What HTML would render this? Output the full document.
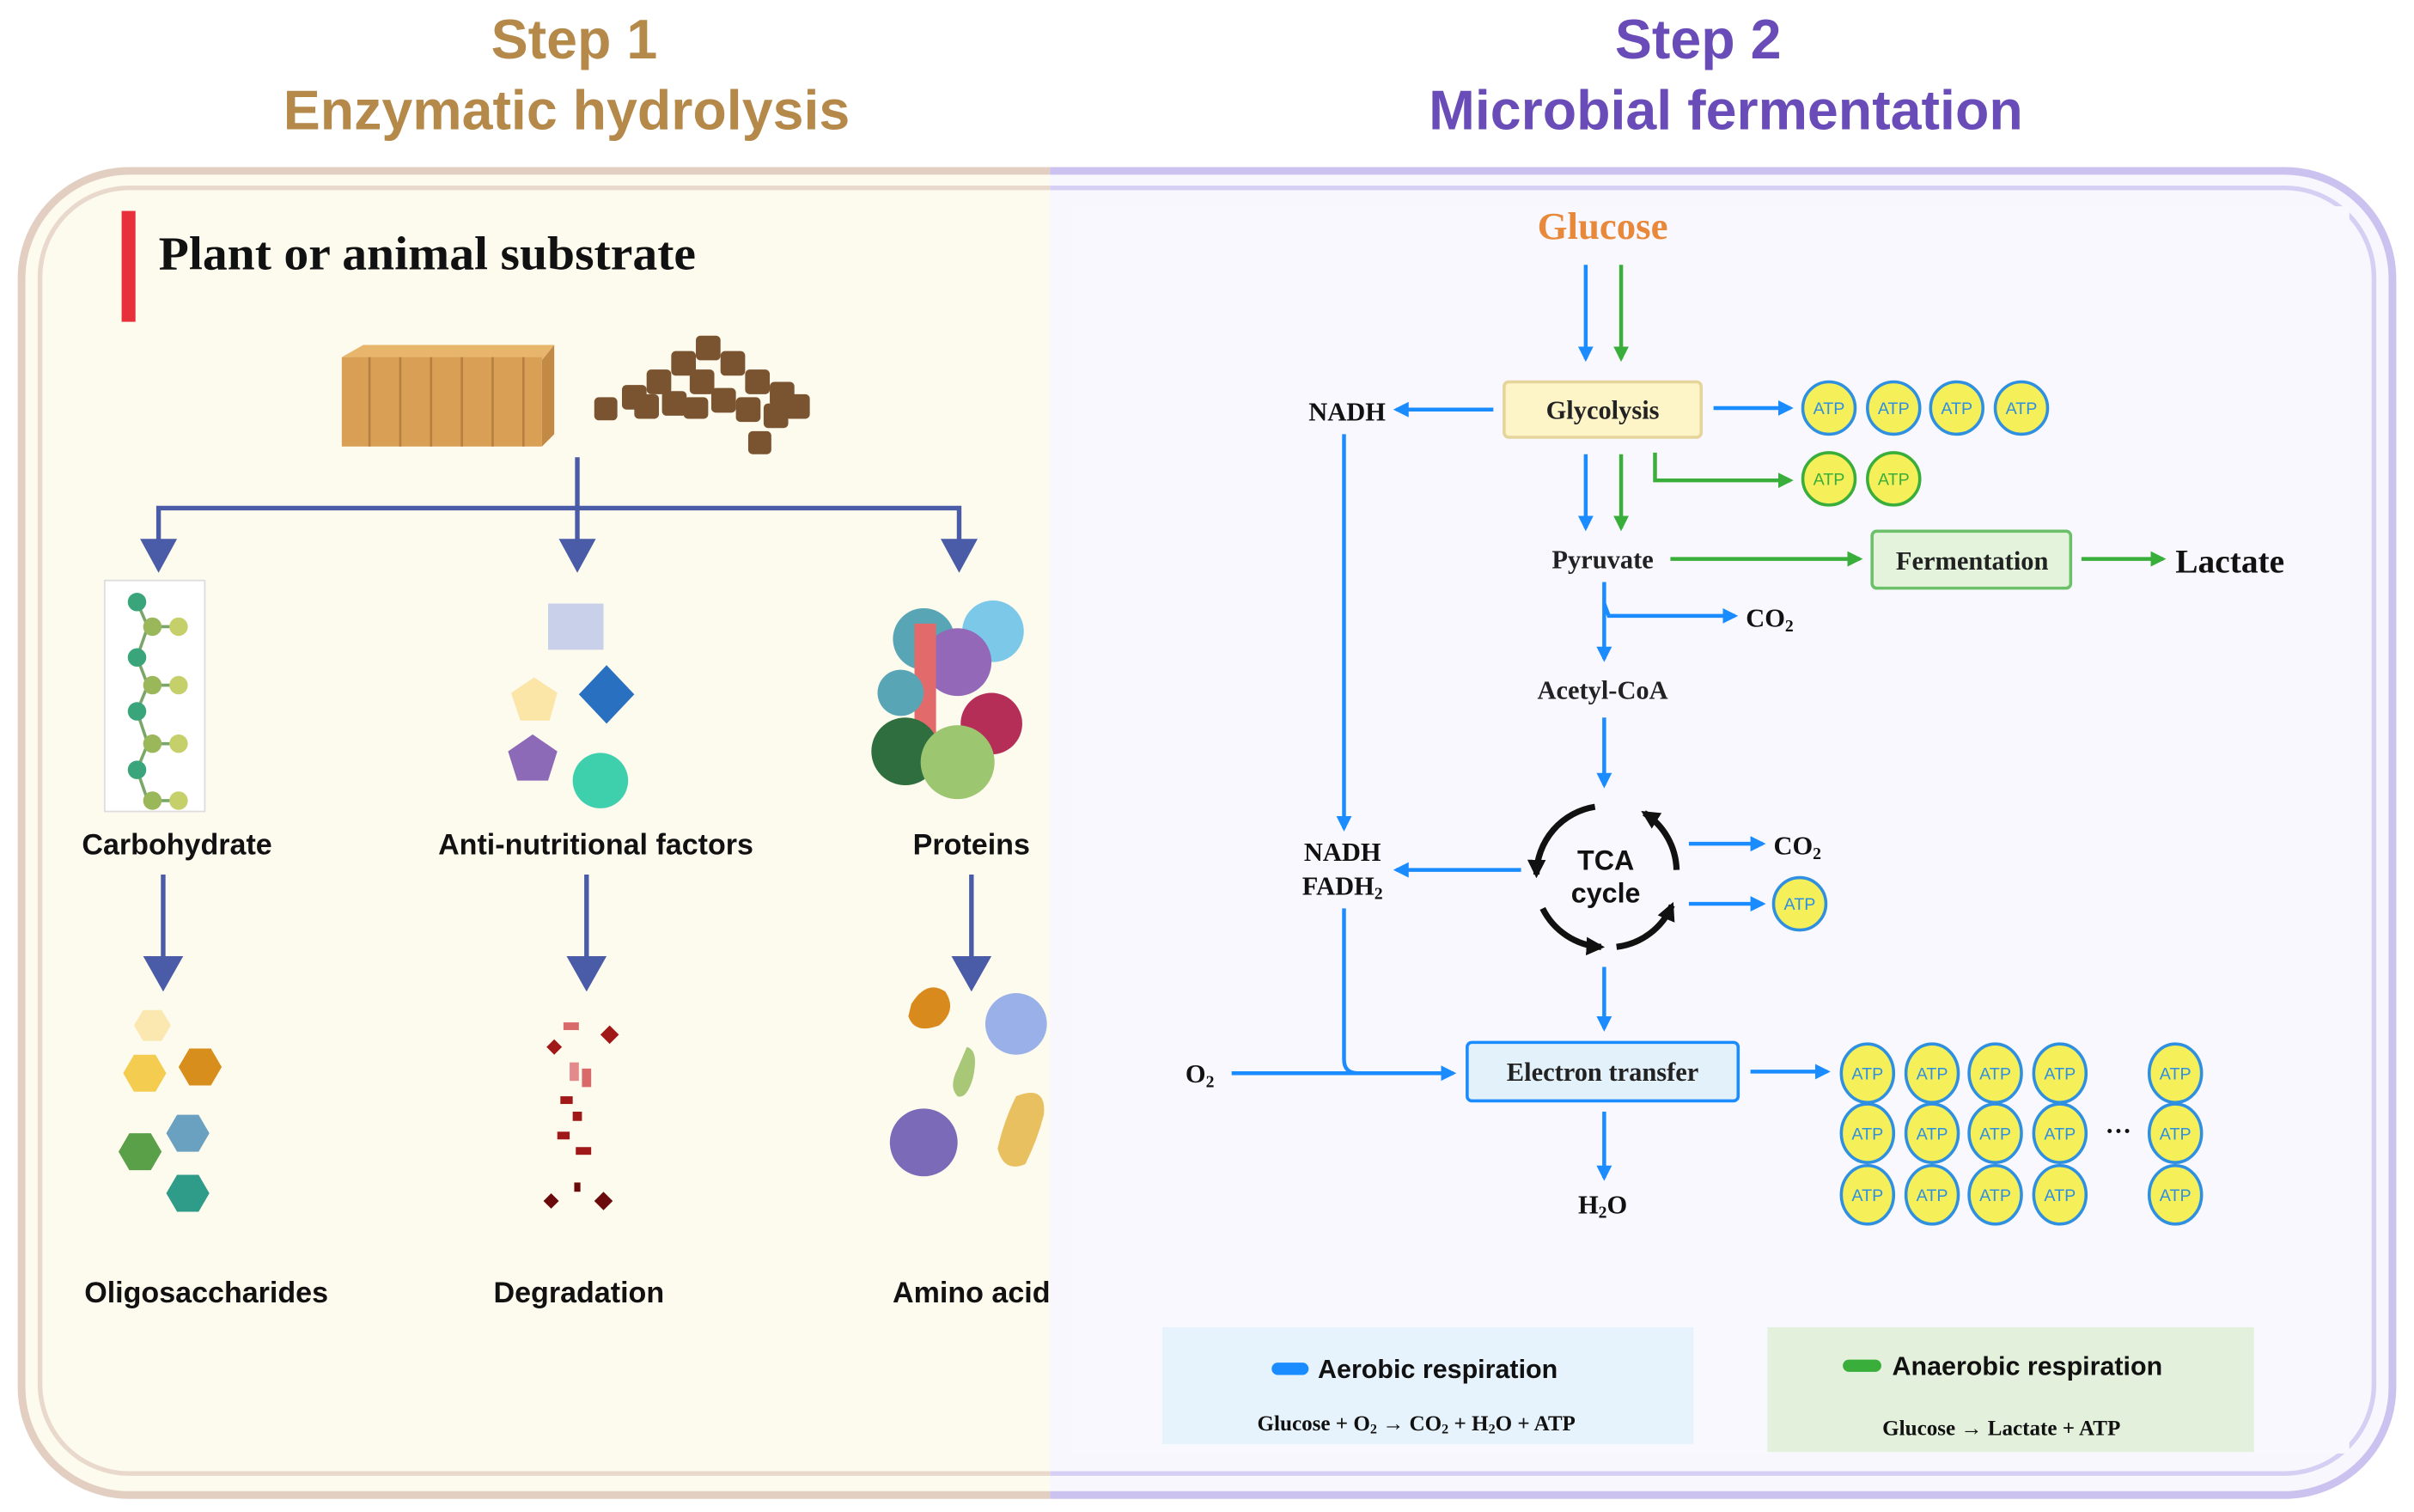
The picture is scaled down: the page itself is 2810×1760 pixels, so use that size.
<!DOCTYPE html>
<html><head><meta charset="utf-8"><style>
html,body{margin:0;padding:0;background:#fff;}
svg{display:block;}
.sans{font-family:"Liberation Sans",sans-serif;font-weight:bold;}
.serif{font-family:"Liberation Serif",serif;font-weight:bold;}
</style></head><body>
<svg width="2810" height="1760" viewBox="0 0 1568 982" preserveAspectRatio="none" xmlns="http://www.w3.org/2000/svg">
<defs>
<marker id="ab" viewBox="0 0 10 10" refX="8" refY="5" markerWidth="4" markerHeight="4" orient="auto"><path d="M0,0L10,5L0,10z" fill="#1a8cff"/></marker>
<marker id="ag" viewBox="0 0 10 10" refX="8" refY="5" markerWidth="4" markerHeight="4" orient="auto"><path d="M0,0L10,5L0,10z" fill="#3aae3a"/></marker>
<marker id="ak" viewBox="0 0 10 10" refX="8" refY="5" markerWidth="3" markerHeight="3" orient="auto"><path d="M0,0L10,5L0,10z" fill="#111"/></marker>
<marker id="ad" viewBox="0 0 10 10" refX="8" refY="5" markerWidth="3.5" markerHeight="3.5" orient="auto"><path d="M0,0L10,5L0,10z" fill="#4a5ba8"/></marker>
<g id="atpb"><ellipse cx="0" cy="0" rx="17" ry="17" fill="#f5ef5a" stroke="#2f8fe0" stroke-width="2"/><text x="0" y="4" font-size="11" text-anchor="middle" fill="#2f8fe0" font-family="Liberation Sans,sans-serif">ATP</text></g>
<g id="atpg"><ellipse cx="0" cy="0" rx="17" ry="17" fill="#f5ef5a" stroke="#3aae3a" stroke-width="2"/><text x="0" y="4" font-size="11" text-anchor="middle" fill="#3aae3a" font-family="Liberation Sans,sans-serif">ATP</text></g>
<g id="atpe"><ellipse cx="0" cy="0" rx="17" ry="19" fill="#f5ef5a" stroke="#2f8fe0" stroke-width="2"/><text x="0" y="4" font-size="11" text-anchor="middle" fill="#2f8fe0" font-family="Liberation Sans,sans-serif">ATP</text></g>
</defs>
<rect width="1568" height="982" fill="#fff"/>
<text x="373" y="38" class="sans" font-size="36" fill="#b5894a" text-anchor="middle">Step 1</text>
<text x="368" y="84" class="sans" font-size="36" fill="#b5894a" text-anchor="middle">Enzymatic hydrolysis</text>
<text x="1103" y="38" class="sans" font-size="36" fill="#6a4cb8" text-anchor="middle">Step 2</text>
<text x="1121" y="84" class="sans" font-size="36" fill="#6a4cb8" text-anchor="middle">Microbial fermentation</text>
<clipPath id="cl"><rect x="0" y="0" width="682" height="982"/></clipPath>
<clipPath id="cr"><rect x="682" y="0" width="900" height="982"/></clipPath>
<g clip-path="url(#cl)">
<rect x="14" y="111" width="1540" height="860" rx="70" fill="#fdfaee" stroke="#e3cfc2" stroke-width="5"/>
<rect x="26" y="122" width="1516" height="835" rx="58" fill="none" stroke="#e9d9cc" stroke-width="3"/>
</g>
<g clip-path="url(#cr)">
<rect x="14" y="111" width="1540" height="860" rx="70" fill="#f8f7fd" stroke="#cbc2f0" stroke-width="5"/>
<rect x="26" y="122" width="1516" height="835" rx="58" fill="none" stroke="#d6cff4" stroke-width="3"/>
</g>
<rect x="696" y="134" width="830" height="810" fill="#f9f8fe"/>
<rect x="79" y="137" width="9" height="72" fill="#e8303a"/>
<text x="103" y="175" class="serif" font-size="31" fill="#111" textLength="349" lengthAdjust="spacingAndGlyphs">Plant or animal substrate</text>
<path d="M222,232 L236,224 L360,224 L352,234 Z" fill="#e7b56c"/>
<rect x="222" y="232" width="130" height="58" fill="#d9a055"/>
<path d="M352,234 L360,224 L360,282 L352,290 Z" fill="#c28a45"/>
<g stroke="#b88040" stroke-width="1.5"><line x1="240" y1="232" x2="240" y2="290"/><line x1="260" y1="232" x2="260" y2="290"/><line x1="280" y1="232" x2="280" y2="290"/><line x1="300" y1="232" x2="300" y2="290"/><line x1="320" y1="232" x2="320" y2="290"/><line x1="340" y1="232" x2="340" y2="290"/></g>
<g fill="#7a5330">
<rect x="386" y="258" width="15" height="15" rx="3"/><rect x="404" y="250" width="16" height="16" rx="3"/><rect x="420" y="240" width="16" height="16" rx="3"/><rect x="436" y="228" width="16" height="16" rx="3"/><rect x="452" y="218" width="16" height="16" rx="3"/><rect x="468" y="228" width="16" height="16" rx="3"/><rect x="484" y="240" width="16" height="16" rx="3"/><rect x="500" y="248" width="16" height="16" rx="3"/><rect x="510" y="256" width="16" height="16" rx="3"/>
<rect x="412" y="256" width="16" height="16" rx="3"/><rect x="430" y="254" width="16" height="16" rx="3"/><rect x="448" y="240" width="16" height="16" rx="3"/><rect x="462" y="252" width="16" height="16" rx="3"/><rect x="478" y="258" width="16" height="16" rx="3"/><rect x="496" y="262" width="16" height="16" rx="3"/><rect x="486" y="280" width="15" height="15" rx="3"/><rect x="444" y="258" width="16" height="14" rx="3"/>
</g>
<g stroke="#4a5ba8" stroke-width="3" fill="none">
<line x1="375" y1="297" x2="375" y2="360" marker-end="url(#ad)"/>
<polyline points="103,362 103,330 623,330 623,362"/>
</g>
<g fill="#4a5ba8"><path d="M91,350 L115,350 L103,372Z"/><path d="M363,350 L387,350 L375,372Z"/><path d="M611,350 L635,350 L623,372Z"/></g>
<rect x="68" y="377" width="65" height="150" fill="#fff" stroke="#ddd"/>
<g stroke="#7aa66a" stroke-width="2"><polyline points="89,391 96,407 89,427 96,445 89,462 96,483 89,500 96,520" fill="none"/><line x1="96" y1="407" x2="116" y2="407"/><line x1="96" y1="445" x2="116" y2="445"/><line x1="96" y1="483" x2="116" y2="483"/><line x1="96" y1="520" x2="116" y2="520"/></g>
<g fill="#3aa57a"><circle cx="89" cy="391" r="6"/><circle cx="89" cy="427" r="6"/><circle cx="89" cy="462" r="6"/><circle cx="89" cy="500" r="6"/></g>
<g fill="#9ab85a"><circle cx="99" cy="407" r="6"/><circle cx="99" cy="445" r="6"/><circle cx="99" cy="483" r="6"/><circle cx="99" cy="520" r="6"/></g>
<g fill="#c6d06a"><circle cx="116" cy="407" r="6"/><circle cx="116" cy="445" r="6"/><circle cx="116" cy="483" r="6"/><circle cx="116" cy="520" r="6"/></g>
<rect x="356" y="392" width="36" height="30" fill="#c8d0ea"/>
<path d="M394,432 L412,451 L394,470 L376,451Z" fill="#2a70c0"/>
<path d="M347,440 L362,450 L357,468 L338,468 L332,450Z" fill="#fbe6a8"/>
<path d="M346,477 L362,488 L356,507 L336,507 L330,488Z" fill="#8d6ab8"/>
<circle cx="390" cy="507" r="18" fill="#3ecfad"/>
<g>
<circle cx="600" cy="415" r="20" fill="#58a6b5"/><circle cx="645" cy="410" r="20" fill="#7cc8e8"/><circle cx="622" cy="430" r="22" fill="#9468b8"/>
<rect x="594" y="405" width="14" height="85" fill="#e26a6a"/><circle cx="585" cy="450" r="15" fill="#58a6b5"/>
<circle cx="644" cy="470" r="20" fill="#b52e58"/><circle cx="588" cy="488" r="22" fill="#2f6e3e"/><circle cx="622" cy="495" r="24" fill="#9cc670"/>
</g>
<text x="115" y="555" class="sans" font-size="19" fill="#111" text-anchor="middle">Carbohydrate</text>
<text x="387" y="555" class="sans" font-size="19" fill="#111" text-anchor="middle">Anti-nutritional factors</text>
<text x="631" y="555" class="sans" font-size="19" fill="#111" text-anchor="middle">Proteins</text>
<g stroke="#4a5ba8" stroke-width="3"><line x1="106" y1="568" x2="106" y2="625"/><line x1="381" y1="568" x2="381" y2="625"/><line x1="631" y1="568" x2="631" y2="625"/></g>
<g fill="#4a5ba8"><path d="M93,621 L119,621 L106,644Z"/><path d="M368,621 L394,621 L381,644Z"/><path d="M618,621 L644,621 L631,644Z"/></g>
<g><path d="M87,666 L93,656 L105,656 L111,666 L105,676 L93,676Z" fill="#fbe8b0"/>
<path d="M80,697 L87,685 L101,685 L108,697 L101,709 L87,709Z" fill="#f4cc50"/>
<path d="M116,693 L123,681 L137,681 L144,693 L137,705 L123,705Z" fill="#d88e1c"/>
<path d="M108,736 L115,724 L129,724 L136,736 L129,748 L115,748Z" fill="#6aa0c0"/>
<path d="M77,748 L84,736 L98,736 L105,748 L98,760 L84,760Z" fill="#5aa048"/>
<path d="M108,775 L115,763 L129,763 L136,775 L129,787 L115,787Z" fill="#2f9c8a"/></g>
<g fill="#a01818"><rect x="366" y="664" width="10" height="5" fill="#d86a6a"/><path d="M396,666 l6,6 -6,6 -6,-6z"/><path d="M360,675 l5,5 -5,5 -5,-5z"/><rect x="370" y="690" width="6" height="12" fill="#e48a8a"/><rect x="378" y="694" width="6" height="12" fill="#d86a6a"/><rect x="364" y="712" width="8" height="5"/><rect x="372" y="722" width="6" height="6"/><rect x="362" y="735" width="8" height="5"/><rect x="374" y="745" width="10" height="5"/><path d="M358,775 l5,5 -5,5 -5,-5z" fill="#6a0a0a"/><rect x="373" y="768" width="4" height="6" fill="#6a0a0a"/><path d="M392,774 l6,6 -6,6 -6,-6z" fill="#6a0a0a"/></g>
<g><path d="M592,652 q10,-16 22,-8 q8,12 -4,22 q-16,6 -20,-6z" fill="#d88a1c"/>
<circle cx="660" cy="665" r="20" fill="#9ab0e8"/>
<path d="M628,680 q8,2 4,20 q-4,14 -10,12 q-6,-6 0,-18z" fill="#a8c878"/>
<circle cx="600" cy="742" r="22" fill="#7a6ab8"/>
<path d="M660,712 q20,-8 18,12 q-4,16 -12,32 q-14,6 -18,-10 q4,-18 12,-34z" fill="#e8c060"/></g>
<text x="134" y="846" class="sans" font-size="19" fill="#111" text-anchor="middle">Oligosaccharides</text>
<text x="376" y="846" class="sans" font-size="19" fill="#111" text-anchor="middle">Degradation</text>
<text x="631" y="846" class="sans" font-size="19" fill="#111" text-anchor="middle">Amino acid</text>
<text x="1041" y="155" class="serif" font-size="25" fill="#e8883a" text-anchor="middle">Glucose</text>
<g stroke-width="2.5" fill="none">
<line x1="1030" y1="172" x2="1030" y2="233" stroke="#1a8cff" marker-end="url(#ab)"/>
<line x1="1053" y1="172" x2="1053" y2="233" stroke="#3aae3a" marker-end="url(#ag)"/>
<line x1="970" y1="266" x2="907" y2="266" stroke="#1a8cff" marker-end="url(#ab)"/>
<line x1="1113" y1="265" x2="1163" y2="265" stroke="#1a8cff" marker-end="url(#ab)"/>
<polyline points="1075,294 1075,312 1163,312" stroke="#3aae3a" marker-end="url(#ag)"/>
<line x1="1030" y1="295" x2="1030" y2="343" stroke="#1a8cff" marker-end="url(#ab)"/>
<line x1="1053" y1="295" x2="1053" y2="343" stroke="#3aae3a" marker-end="url(#ag)"/>
<line x1="1085" y1="363" x2="1208" y2="363" stroke="#3aae3a" marker-end="url(#ag)"/>
<line x1="1352" y1="363" x2="1405" y2="363" stroke="#3aae3a" marker-end="url(#ag)"/>
<line x1="1042" y1="378" x2="1042" y2="428" stroke="#1a8cff" marker-end="url(#ab)"/>
<polyline points="1042,392 1045,400 1127,400" stroke="#1a8cff" marker-end="url(#ab)"/>
<line x1="1042" y1="466" x2="1042" y2="510" stroke="#1a8cff" marker-end="url(#ab)"/>
<line x1="873" y1="282" x2="873" y2="538" stroke="#1a8cff" marker-end="url(#ab)"/>
<line x1="988" y1="565" x2="907" y2="565" stroke="#1a8cff" marker-end="url(#ab)"/>
<line x1="1097" y1="548" x2="1145" y2="548" stroke="#1a8cff" marker-end="url(#ab)"/>
<line x1="1097" y1="587" x2="1145" y2="587" stroke="#1a8cff" marker-end="url(#ab)"/>
<path d="M873,590 L873,688 Q873,697 882,697" stroke="#1a8cff"/>
<line x1="800" y1="697" x2="944" y2="697" stroke="#1a8cff" marker-end="url(#ab)"/>
<line x1="1042" y1="628" x2="1042" y2="668" stroke="#1a8cff" marker-end="url(#ab)"/>
<line x1="1042" y1="722" x2="1042" y2="765" stroke="#1a8cff" marker-end="url(#ab)"/>
<line x1="1137" y1="696" x2="1187" y2="696" stroke="#1a8cff" marker-end="url(#ab)"/>
</g>
<rect x="977" y="248" width="128" height="36" rx="3" fill="#fdf4c8" stroke="#e6d59a" stroke-width="2"/>
<text x="1041" y="272" class="serif" font-size="17" fill="#222" text-anchor="middle">Glycolysis</text>
<text x="875" y="273" class="serif" font-size="17" fill="#111" text-anchor="middle">NADH</text>
<use href="#atpb" x="1188" y="265"/><use href="#atpb" x="1230" y="265"/><use href="#atpb" x="1271" y="265"/><use href="#atpb" x="1313" y="265"/>
<use href="#atpg" x="1188" y="311"/><use href="#atpg" x="1230" y="311"/>
<text x="1041" y="369" class="serif" font-size="17" fill="#222" text-anchor="middle">Pyruvate</text>
<rect x="1216" y="345" width="129" height="37" rx="3" fill="#e4f4dc" stroke="#6cc06a" stroke-width="2"/>
<text x="1281" y="370" class="serif" font-size="17" fill="#222" text-anchor="middle">Fermentation</text>
<text x="1413" y="372" class="serif" font-size="22" fill="#111">Lactate</text>
<text x="1134" y="407" class="serif" font-size="17" fill="#111">CO<tspan font-size="11" dy="3">2</tspan></text>
<text x="1041" y="454" class="serif" font-size="17" fill="#222" text-anchor="middle">Acetyl-CoA</text>
<g stroke="#111" stroke-width="4" fill="none">
<path d="M1036,524 A45,45 0 0 0 998,568" marker-end="url(#ak)"/>
<path d="M1002,590 A45,45 0 0 0 1040,615" marker-end="url(#ak)"/>
<path d="M1050,615 A45,45 0 0 0 1086,588" marker-end="url(#ak)"/>
<path d="M1089,565 A45,45 0 0 0 1068,528" marker-end="url(#ak)"/>
</g>
<text x="1043" y="565" class="sans" font-size="18" fill="#111" text-anchor="middle">TCA</text>
<text x="1043" y="586" class="sans" font-size="18" fill="#111" text-anchor="middle">cycle</text>
<text x="872" y="559" class="serif" font-size="17" fill="#111" text-anchor="middle">NADH</text>
<text x="872" y="581" class="serif" font-size="17" fill="#111" text-anchor="middle">FADH<tspan font-size="11" dy="3">2</tspan></text>
<text x="1152" y="555" class="serif" font-size="17" fill="#111">CO<tspan font-size="11" dy="3">2</tspan></text>
<use href="#atpb" x="1169" y="587"/>
<text x="770" y="703" class="serif" font-size="17" fill="#111">O<tspan font-size="11" dy="3">2</tspan></text>
<rect x="953" y="677" width="176" height="38" rx="3" fill="#e3f1fb" stroke="#1a8cff" stroke-width="2"/>
<text x="1041" y="702" class="serif" font-size="17" fill="#222" text-anchor="middle">Electron transfer</text>
<text x="1041" y="788" class="serif" font-size="17" fill="#111" text-anchor="middle">H<tspan font-size="11" dy="3">2</tspan><tspan dy="-3">O</tspan></text>
<g>
<use href="#atpe" x="1213" y="697"/><use href="#atpe" x="1255" y="697"/><use href="#atpe" x="1296" y="697"/><use href="#atpe" x="1338" y="697"/><use href="#atpe" x="1413" y="697"/>
<use href="#atpe" x="1213" y="736"/><use href="#atpe" x="1255" y="736"/><use href="#atpe" x="1296" y="736"/><use href="#atpe" x="1338" y="736"/><use href="#atpe" x="1413" y="736"/>
<use href="#atpe" x="1213" y="776"/><use href="#atpe" x="1255" y="776"/><use href="#atpe" x="1296" y="776"/><use href="#atpe" x="1338" y="776"/><use href="#atpe" x="1413" y="776"/>
</g>
<text x="1376" y="740" class="serif" font-size="17" fill="#111" text-anchor="middle">···</text>
<rect x="755" y="862" width="345" height="76" fill="#e6f2fc"/>
<rect x="826" y="885" width="24" height="8" rx="4" fill="#1a8cff"/>
<text x="856" y="895" class="sans" font-size="17" fill="#111">Aerobic respiration</text>
<text x="920" y="929" class="serif" font-size="14" fill="#111" text-anchor="middle">Glucose + O<tspan font-size="9" dy="2">2</tspan><tspan dy="-2"> → CO</tspan><tspan font-size="9" dy="2">2</tspan><tspan dy="-2"> + H</tspan><tspan font-size="9" dy="2">2</tspan><tspan dy="-2">O +  ATP</tspan></text>
<rect x="1148" y="862" width="316" height="81" fill="#e3f0dc"/>
<rect x="1197" y="883" width="25" height="8" rx="4" fill="#3aae3a"/>
<text x="1229" y="893" class="sans" font-size="17" fill="#111">Anaerobic respiration</text>
<text x="1300" y="932" class="serif" font-size="14" fill="#111" text-anchor="middle">Glucose → Lactate +  ATP</text>
</svg>
</body></html>
